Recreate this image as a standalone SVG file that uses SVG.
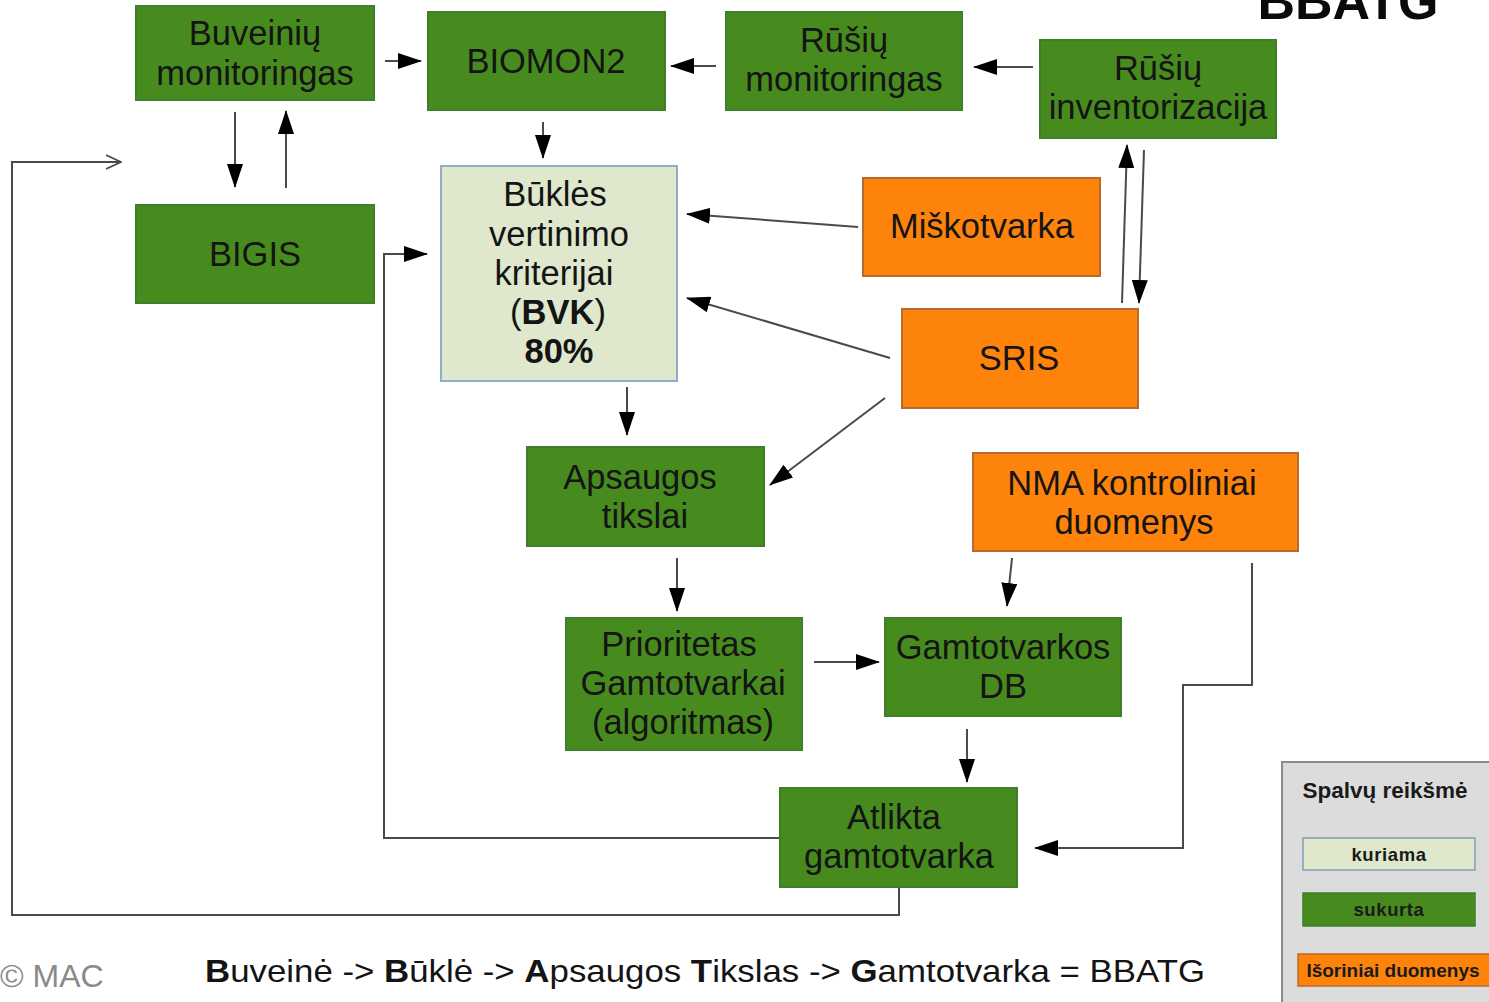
<svg xmlns="http://www.w3.org/2000/svg" width="1489" height="1002" viewBox="0 0 1489 1002">
<defs>
<style>
.g{fill:#478b1e;stroke:#3f7f2a;stroke-width:2}
.o{fill:#fd830b;stroke:#b86a2a;stroke-width:2}
.l{fill:#dfe8cc;stroke:#8fb0c4;stroke-width:2}
.t{font-family:"Liberation Sans",Arial,sans-serif;font-size:34.5px;fill:#141414;text-anchor:middle}
.c{fill:none;stroke:#4a4a4a;stroke-width:2}
.lg{font-family:"Liberation Sans",Arial,sans-serif;font-weight:bold;fill:#1a1a1a;text-anchor:middle}
</style>
<marker id="ab" viewBox="0 0 24 16" refX="23" refY="8" markerWidth="24" markerHeight="16" markerUnits="userSpaceOnUse" orient="auto">
<path d="M0,0 L24,8 L0,16 Z" fill="#000"/>
</marker>
<marker id="op" viewBox="0 0 16 16" refX="15" refY="8" markerWidth="16" markerHeight="16" markerUnits="userSpaceOnUse" orient="auto">
<path d="M0,1 L15,8 L0,15" fill="none" stroke="#4a4a4a" stroke-width="1.6"/>
</marker>
</defs>
<rect width="1489" height="1002" fill="#fff"/>

<g id="connectors">
<line class="c" x1="385" y1="61" x2="421" y2="61" marker-end="url(#ab)"/>
<line class="c" x1="716" y1="66" x2="671" y2="66" marker-end="url(#ab)"/>
<line class="c" x1="1033" y1="67" x2="974" y2="67" marker-end="url(#ab)"/>
<line class="c" x1="543" y1="122" x2="543" y2="158" marker-end="url(#ab)"/>
<line class="c" x1="235" y1="112" x2="235" y2="187" marker-end="url(#ab)"/>
<line class="c" x1="286" y1="188" x2="286" y2="111" marker-end="url(#ab)"/>
<polyline class="c" points="899,888 899,915 12,915 12,162 121,162" marker-end="url(#op)"/>
<polyline class="c" points="780,838 384,838 384,254 427,254" marker-end="url(#ab)"/>
<line class="c" x1="858" y1="227" x2="687" y2="214" marker-end="url(#ab)"/>
<line class="c" x1="890" y1="358" x2="687" y2="298" marker-end="url(#ab)"/>
<line class="c" x1="885" y1="398" x2="770" y2="485" marker-end="url(#ab)"/>
<line class="c" x1="1122" y1="303" x2="1127" y2="145" marker-end="url(#ab)"/>
<line class="c" x1="1144" y1="150" x2="1139" y2="303" marker-end="url(#ab)"/>
<line class="c" x1="627" y1="387" x2="627" y2="435" marker-end="url(#ab)"/>
<line class="c" x1="677" y1="558" x2="677" y2="611" marker-end="url(#ab)"/>
<line class="c" x1="814" y1="662" x2="879" y2="662" marker-end="url(#ab)"/>
<line class="c" x1="1012" y1="558" x2="1007" y2="606" marker-end="url(#ab)"/>
<line class="c" x1="967" y1="729" x2="967" y2="782" marker-end="url(#ab)"/>
<polyline class="c" points="1252,563 1252,685 1183,685 1183,848 1035,848" marker-end="url(#ab)"/>
</g>

<g id="buveiniu-monitoringas"><rect class="g" x="136" y="6" width="238" height="94"/><text class="t" x="255" y="45">Buveinių</text><text class="t" x="255" y="85">monitoringas</text></g>
<g id="biomon2"><rect class="g" x="428" y="12" width="237" height="98"/><text class="t" x="546" y="73">BIOMON2</text></g>
<g id="rusiu-monitoringas"><rect class="g" x="726" y="12" width="236" height="98"/><text class="t" x="844" y="52">Rūšių</text><text class="t" x="844" y="91">monitoringas</text></g>
<g id="rusiu-inventorizacija"><rect class="g" x="1040" y="40" width="236" height="98"/><text class="t" x="1158" y="80">Rūšių</text><text class="t" x="1158" y="119">inventorizacija</text></g>
<g id="bigis"><rect class="g" x="136" y="205" width="238" height="98"/><text class="t" x="255" y="266">BIGIS</text></g>
<g id="bvk"><rect class="l" x="441" y="166" width="236" height="215"/>
<text class="t" x="555" y="206">Būklės</text>
<text class="t" x="559" y="246">vertinimo</text>
<text class="t" x="554" y="285">kriterijai</text>
<text class="t" x="558" y="324">(<tspan font-weight="bold">BVK</tspan>)</text>
<text class="t" x="559" y="363" font-weight="bold">80%</text></g>
<g id="miskotvarka"><rect class="o" x="863" y="178" width="237" height="98"/><text class="t" x="982" y="238">Miškotvarka</text></g>
<g id="sris"><rect class="o" x="902" y="309" width="236" height="99"/><text class="t" x="1019" y="370">SRIS</text></g>
<g id="apsaugos-tikslai"><rect class="g" x="527" y="447" width="237" height="99"/><text class="t" x="640" y="489">Apsaugos</text><text class="t" x="645" y="528">tikslai</text></g>
<g id="nma"><rect class="o" x="973" y="453" width="325" height="98"/><text class="t" x="1132" y="495">NMA kontroliniai</text><text class="t" x="1134" y="534">duomenys</text></g>
<g id="prioritetas"><rect class="g" x="566" y="618" width="236" height="132"/><text class="t" x="679" y="656">Prioritetas</text><text class="t" x="683" y="695">Gamtotvarkai</text><text class="t" x="683" y="734">(algoritmas)</text></g>
<g id="gamtotvarkos-db"><rect class="g" x="885" y="618" width="236" height="98"/><text class="t" x="1003" y="659">Gamtotvarkos</text><text class="t" x="1003" y="698">DB</text></g>
<g id="atlikta"><rect class="g" x="780" y="788" width="237" height="99"/><text class="t" x="894" y="829">Atlikta</text><text class="t" x="899" y="868">gamtotvarka</text></g>

<g id="legend">
<rect x="1282" y="762" width="220" height="250" fill="#dcdcdc" stroke="#8a8a8a" stroke-width="2"/>
<text class="lg" x="1385" y="798" font-size="22.5">Spalvų reikšmė</text>
<rect x="1303" y="838" width="172" height="32" fill="#dfe8cc" stroke="#7f9fb4" stroke-width="1.5"/>
<text class="lg" x="1389" y="861" font-size="18.5" letter-spacing="0.6">kuriama</text>
<rect x="1303" y="893" width="172" height="33" fill="#478b1e" stroke="#3f7f2a" stroke-width="1.5"/>
<text class="lg" x="1389" y="916" font-size="18.5" letter-spacing="0.6">sukurta</text>
<rect x="1298" y="954" width="195" height="32" fill="#fd830b" stroke="#b86a2a" stroke-width="1.5"/>
<text class="lg" x="1393" y="977" font-size="19" fill="#3a1a0a">Išoriniai duomenys</text>
</g>

<text x="1348" y="19" font-family="'Liberation Sans',Arial,sans-serif" font-weight="bold" font-size="52" fill="#0a0a0a" text-anchor="middle">BBATG</text>
<text x="0" y="987" font-family="'Liberation Sans',Arial,sans-serif" font-size="32" fill="#8a8a8a">© MAC</text>
<text x="205" y="982" font-family="'Liberation Sans',Arial,sans-serif" font-size="32" fill="#141414" textLength="1000" lengthAdjust="spacingAndGlyphs"><tspan font-weight="bold">B</tspan>uveinė -&gt; <tspan font-weight="bold">B</tspan>ūklė -&gt; <tspan font-weight="bold">A</tspan>psaugos <tspan font-weight="bold">T</tspan>ikslas -&gt; <tspan font-weight="bold">G</tspan>amtotvarka = BBATG</text>
</svg>
